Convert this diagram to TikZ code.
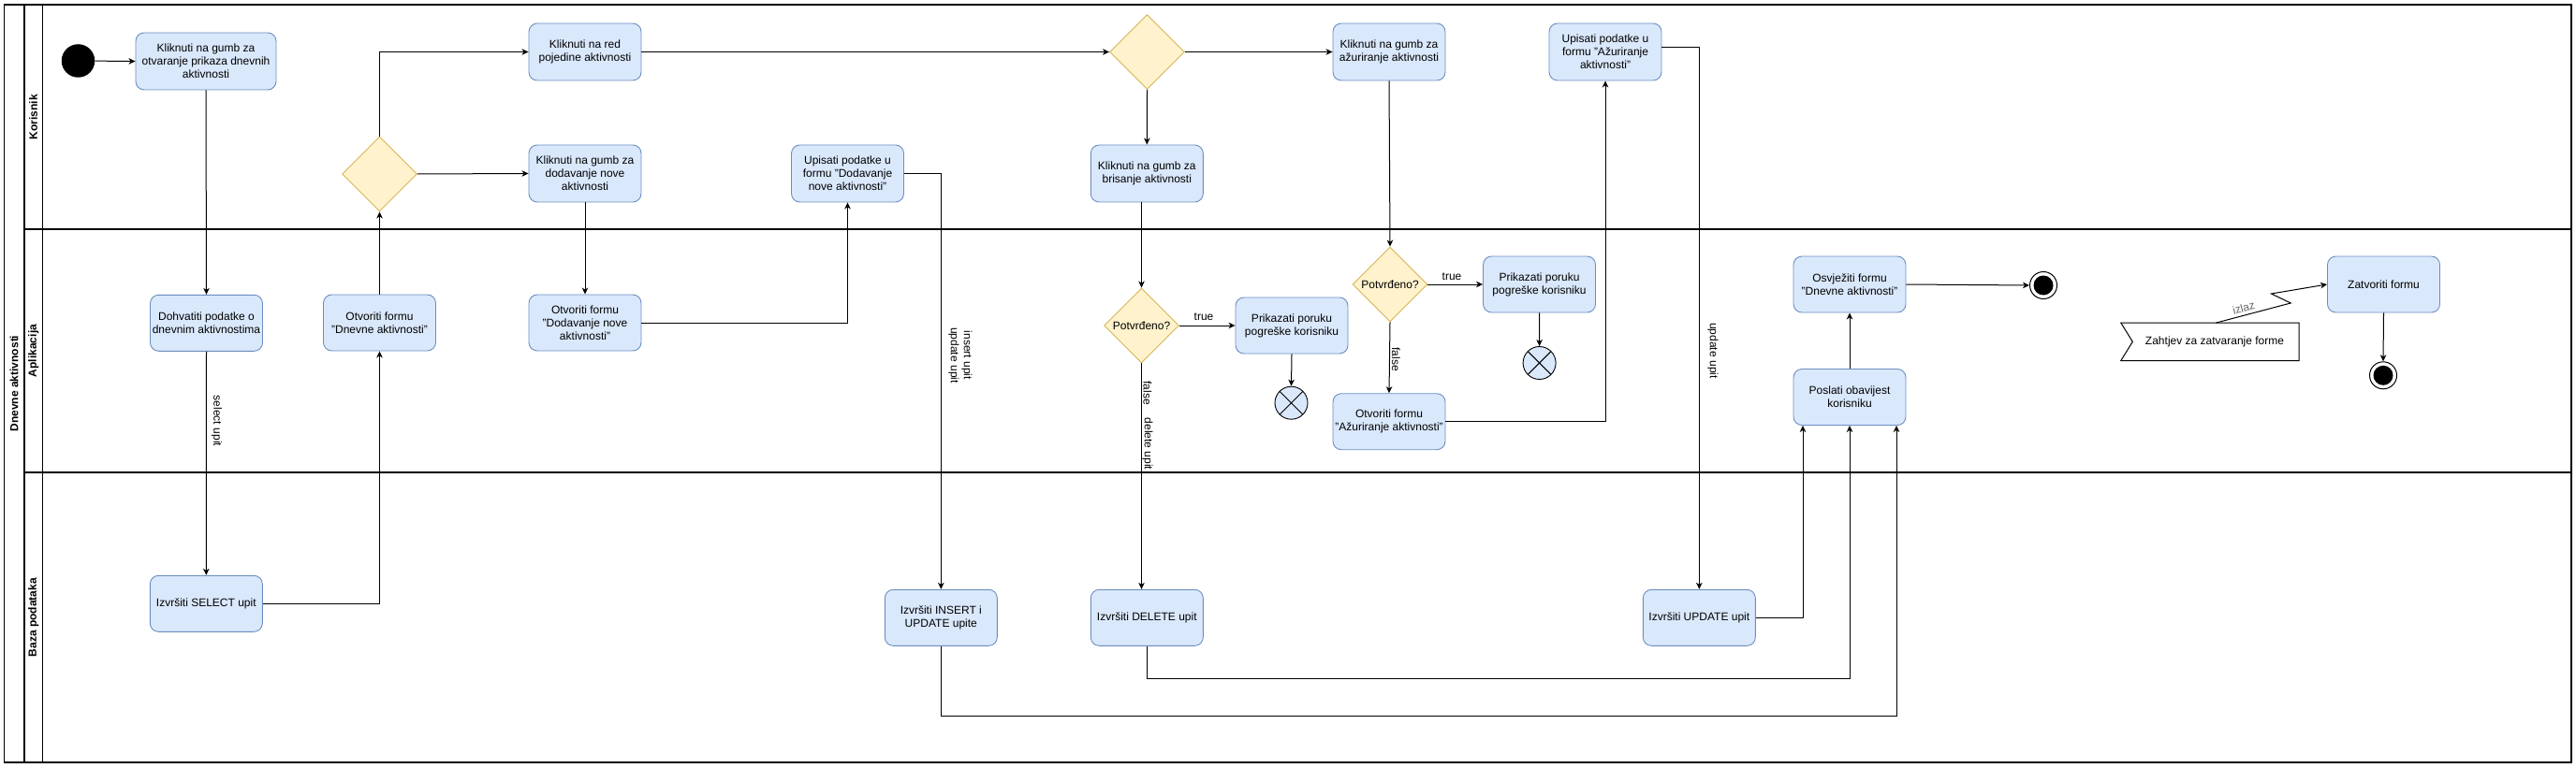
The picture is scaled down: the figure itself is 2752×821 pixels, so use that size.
\documentclass[tikz,border=0pt]{standalone}
\usepackage{fontspec}
\setmainfont{Liberation Sans}
\usetikzlibrary{arrows.meta,shapes.geometric}
\definecolor{boxfill}{HTML}{DAE8FC}
\definecolor{boxdraw}{HTML}{6C8EBF}
\definecolor{decfill}{HTML}{FFF2CC}
\definecolor{decdraw}{HTML}{D6B656}
\begin{document}
\begin{tikzpicture}[x=1pt,y=-1pt,
  every node/.style={font=\fontsize{12}{14}\selectfont},
  act/.style={draw=boxdraw, fill=boxfill, rounded corners=9pt, minimum width=120pt, minimum height=60pt, align=center, inner sep=0pt, line width=0.9pt},
  dec/.style={diamond, draw=decdraw, fill=decfill, minimum width=80pt, minimum height=80pt, inner sep=0pt, line width=0.9pt},
  flow/.style={line width=1pt, -{Stealth[length=7pt,width=6.5pt,inset=2pt]}},
  plainline/.style={line width=1pt},
  lbl/.style={inner sep=0pt, align=center},
  lanehead/.style={font=\fontsize{12}{14}\selectfont\bfseries, inner sep=0pt, rotate=90},
  startstate/.style={circle, fill=black, minimum size=35.5pt, inner sep=0pt},
  endstate/.style={circle, draw=black, line width=1pt, fill=white, minimum size=29pt, inner sep=0pt,
     path picture={\fill[black] (path picture bounding box.center) circle (10.5pt);}},
  flowend/.style={circle, draw=black, line width=0.9pt, fill=boxfill, minimum size=35pt, inner sep=0pt,
     path picture={\draw[line width=0.9pt] (path picture bounding box.north west) -- (path picture bounding box.south east)
       (path picture bounding box.north east) -- (path picture bounding box.south west);}},
  sigbox/.style={minimum width=190pt, minimum height=40pt, inner sep=0pt}
]
\useasboundingbox (0,0) rectangle (2752,821);

% pool and lanes
\draw[line width=1.3pt] (4.5,5) rectangle (2747,815);
\draw[line width=1.3pt] (26,5) -- (26,815);
\draw[line width=1.3pt] (45.5,5) -- (45.5,815);
\draw[line width=1.3pt] (26,245) -- (2747,245);
\draw[line width=1.3pt] (26,505) -- (2747,505);
\node[lanehead] (pool) at (15,410) {Dnevne aktivnosti};
\node[lanehead] (lk) at (35.7,125) {Korisnik};
\node[lanehead] (la) at (35.7,375) {Aplikacija};
\node[lanehead] (lb) at (35.7,660) {Baza podataka};

% Korisnik lane
\node[startstate] (start) at (83.5,65) {};
\node[act, minimum width=150pt, minimum height=61pt] (A) at (220,65.5) {Kliknuti na gumb za\\otvaranje prikaza dnevnih\\aktivnosti};
\node[act, minimum height=61pt] (B) at (625,55.5) {Kliknuti na red\\pojedine aktivnosti};
\node[dec] (d1) at (405.5,186) {};
\node[act, minimum height=61pt] (C) at (625,185.5) {Kliknuti na gumb za\\dodavanje nove\\aktivnosti};
\node[act, minimum height=61pt] (D) at (905.5,185.5) {Upisati podatke u\\formu "Dodavanje\\nove aktivnosti"};
\node[dec] (d2) at (1225.5,55.5) {};
\node[act, minimum height=61pt] (E) at (1225.3,185.5) {Kliknuti na gumb za\\brisanje aktivnosti};
\node[act, minimum height=61pt] (F) at (1484,55.5) {Kliknuti na gumb za\\ažuriranje aktivnosti};
\node[act, minimum height=61pt] (G) at (1715,55.5) {Upisati podatke u\\formu "Ažuriranje\\aktivnosti"};

% Aplikacija lane
\node[act] (H) at (220.5,345.3) {Dohvatiti podatke o\\dnevnim aktivnostima};
\node[act] (I) at (405.5,345) {Otvoriti formu\\"Dnevne aktivnosti"};
\node[act] (J) at (625,345) {Otvoriti formu\\"Dodavanje nove\\aktivnosti"};
\node[dec] (p1) at (1219.5,348) {Potvrđeno?};
\node[act] (K1) at (1380,348) {Prikazati poruku\\pogreške korisniku};
\node[flowend] (X1) at (1379.5,430.7) {};
\node[dec] (p2) at (1485,304) {Potvrđeno?};
\node[act] (K2) at (1644.5,304) {Prikazati poruku\\pogreške korisniku};
\node[flowend] (X2) at (1644.6,388) {};
\node[act] (L) at (1484,450.7) {Otvoriti formu\\"Ažuriranje aktivnosti"};
\node[act] (M) at (1976,304) {Osvježiti formu\\"Dnevne aktivnosti"};
\node[act] (N) at (1976,424.5) {Poslati obavijest\\korisniku};
\node[endstate] (E1) at (2183,305) {};
\node[act] (O) at (2546.5,304) {Zatvoriti formu};
\node[endstate] (E2) at (2546,401.3) {};
\node[sigbox] (sig) at (2366,365.3) {Zahtjev za zatvaranje forme};
\draw[line width=1pt] ([xshift=-5pt]sig.north west) -- ([xshift=-5pt]sig.north east) -- ([xshift=-5pt]sig.south east)
   -- ([xshift=-5pt]sig.south west) -- ([xshift=7.5pt]sig.west) -- cycle;

% Baza podataka lane
\node[act] (P) at (220.3,645.3) {Izvršiti SELECT upit};
\node[act] (Q) at (1005.3,660.3) {Izvršiti INSERT i\\UPDATE upite};
\node[act] (R) at (1225.3,660.3) {Izvršiti DELETE upit};
\node[act] (S) at (1815.3,660.3) {Izvršiti UPDATE upit};

% helper coordinates
\coordinate (rr) at (1976,725);
\coordinate (qq) at (1006,765);
\coordinate (z1) at (2447.2,324);
\coordinate (z2) at (2426.4,314);

% connectors
\draw[flow] (start) -- (A.west);
\draw[flow] (A.south) -- (H.north);
\draw[flow] (H.south) -- (P.north);
\draw[flow] (P.east) -| (I.south);
\draw[flow] (I.north) -- (d1.south);
\draw[flow] (d1.north) |- (B.west);
\draw[flow] (d1.east) -- (C.west);
\draw[flow] (C.south) -- (J.north);
\draw[flow] (J.east) -| (D.south);
\draw[flow] (D.east) -| (Q.north);
\draw[flow] (B.east) -- (d2.west);
\draw[flow] (d2.south) -- (E.north);
\draw[flow] (d2.east) -- (F.west);
\draw[flow] (p1.north |- E.south) -- (p1.north);
\draw[flow] (p1.east) -- (K1.west);
\draw[flow] (K1.south) -- (X1.north);
\draw[flow] (p1.south) -- (p1.south |- R.north);
\draw[flow] (R.south) |- (rr) -- (N.south);
\draw[flow] (Q.south) -- (Q.south |- qq) -| ([xshift=50pt]N.south);
\draw[flow] (S.east) -| ([xshift=-50pt]N.south);
\draw[flow] ([yshift=5pt]G.east) -| (S.north);
\draw[flow] (F.south) -- (p2.north);
\draw[flow] (p2.east) -- (K2.west);
\draw[flow] (K2.south) -- (X2.north);
\draw[flow] (p2.south) -- (L.north);
\draw[flow] (L.east) -| (G.south);
\draw[flow] (N.north) -- (M.south);
\draw[flow] (M.east) -- (E1.west);
\draw[flow] ([xshift=1.4pt]sig.north) -- (z1) -- (z2) -- (O.west);
\draw[flow] (O.south) -- (E2.north);

% connector labels
\node[lbl, rotate=-90] (l1) at (231.5,450) {select upit};
\node[lbl, rotate=-90] (l2) at (1026,380) {insert upit\\update upit};
\node[lbl] (l3) at (1286,339) {true};
\node[lbl, rotate=-90] (l4) at (1226,420) {false};
\node[lbl, rotate=-90] (l5) at (1226,474.5) {delete upit};
\node[lbl] (l6) at (1551,296) {true};
\node[lbl, rotate=-90] (l7) at (1491.5,384) {false};
\node[lbl, rotate=-90] (l8) at (1830,375) {update upit};
\node[lbl, rotate=15, text=black!60] (l9) at (2397,329) {izlaz};
\end{tikzpicture}
\end{document}
